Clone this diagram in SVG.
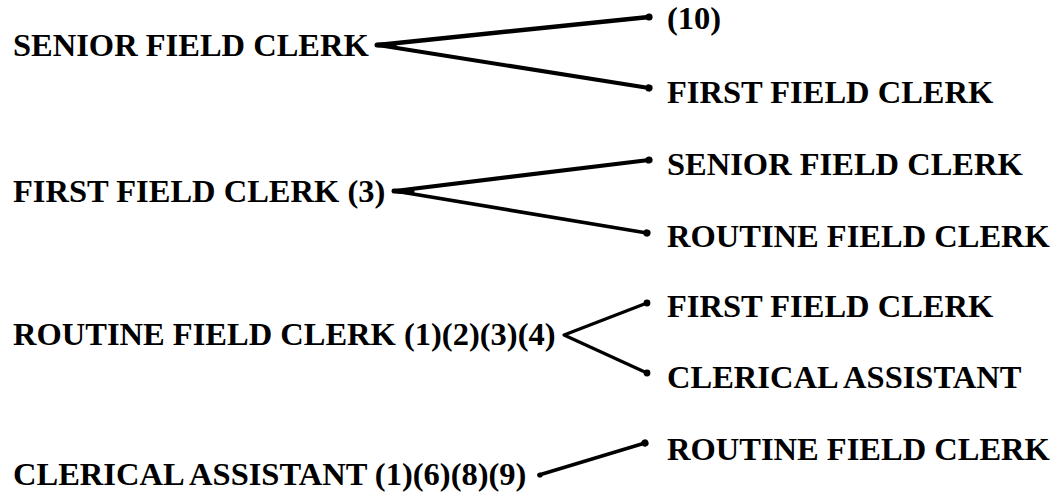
<svg xmlns="http://www.w3.org/2000/svg" width="1054" height="495" viewBox="0 0 1054 495">
  <style>
    .t { font-family: "Liberation Serif", "Times New Roman", serif; font-weight: bold; font-size: 32.5px; fill: #000; }
    .c { stroke: #000; fill: none; stroke-linecap: round; }
  </style>
  <defs>
    <marker id="dot" markerUnits="userSpaceOnUse" markerWidth="10" markerHeight="10" viewBox="-5 -5 10 10" refX="0" refY="0" orient="auto">
      <circle cx="0" cy="0" r="3.6" fill="#000"/>
    </marker>
  </defs>
  <rect width="1054" height="495" fill="#fff"/>

  <g id="connectors">
    <line class="c" x1="377" y1="45" x2="394" y2="45" stroke-width="5"/>
    <line class="c" x1="378" y1="45" x2="649" y2="17" stroke-width="4.5" marker-end="url(#dot)"/>
    <line class="c" x1="378" y1="45" x2="649" y2="88" stroke-width="4" marker-end="url(#dot)"/>

    <line class="c" x1="394" y1="191" x2="412" y2="192" stroke-width="5"/>
    <line class="c" x1="395" y1="191" x2="649" y2="160" stroke-width="4.2" marker-end="url(#dot)"/>
    <line class="c" x1="395" y1="191" x2="647" y2="233" stroke-width="3.8" marker-end="url(#dot)"/>

    <polyline class="c" points="647,303 564,335 647,373" stroke-width="3.2" stroke-linejoin="round"/>
    <circle cx="647" cy="303" r="3.4"/>
    <circle cx="647" cy="373" r="3.4"/>

    <line class="c" x1="539" y1="475" x2="645" y2="443" stroke-width="3.5" marker-end="url(#dot)"/>
    <circle cx="540" cy="475" r="2.6"/>
  </g>

  <g id="senior-field-clerk"><text class="t" x="13" y="56">SENIOR FIELD CLERK</text></g>
  <g id="first-field-clerk"><text class="t" x="13" y="202">FIRST FIELD CLERK (3)</text></g>
  <g id="routine-field-clerk"><text class="t" x="13" y="345">ROUTINE FIELD CLERK (1)(2)(3)(4)</text></g>
  <g id="clerical-assistant"><text class="t" x="13" y="485">CLERICAL ASSISTANT (1)(6)(8)(9)</text></g>

  <g id="t-10"><text class="t" x="667" y="29">(10)</text></g>
  <g id="t-first-1"><text class="t" x="667" y="103">FIRST FIELD CLERK</text></g>
  <g id="t-senior"><text class="t" x="667" y="175">SENIOR FIELD CLERK</text></g>
  <g id="t-routine-1"><text class="t" x="667" y="247">ROUTINE FIELD CLERK</text></g>
  <g id="t-first-2"><text class="t" x="667" y="317">FIRST FIELD CLERK</text></g>
  <g id="t-clerical"><text class="t" x="667" y="388">CLERICAL ASSISTANT</text></g>
  <g id="t-routine-2"><text class="t" x="667" y="460">ROUTINE FIELD CLERK</text></g>
</svg>
